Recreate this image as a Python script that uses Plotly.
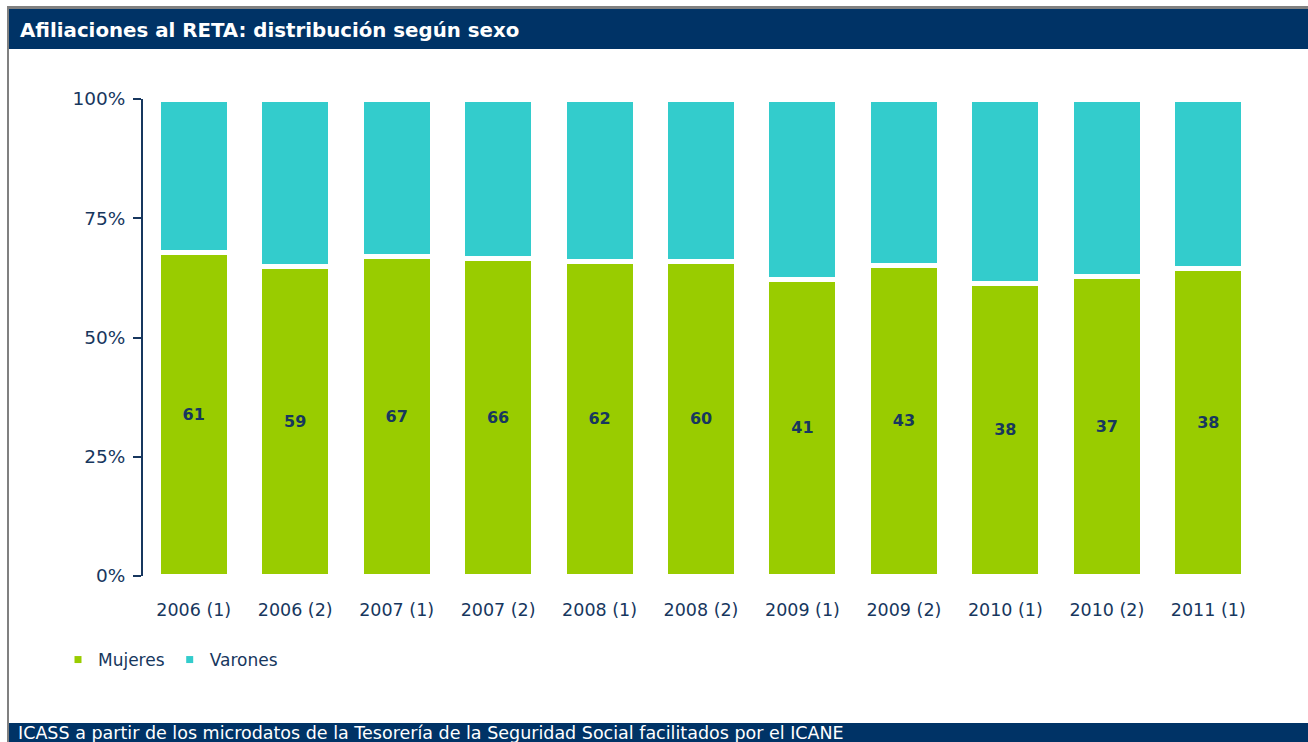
import plotly.graph_objects as go

categories = ["2006 (1)", "2006 (2)", "2007 (1)", "2007 (2)", "2008 (1)", "2008 (2)",
              "2009 (1)", "2009 (2)", "2010 (1)", "2010 (2)", "2011 (1)"]
mujeres = [61, 59, 67, 66, 62, 60, 41, 43, 38, 37, 38]
varones = [29, 32, 33, 33, 32, 31, 25, 23, 24, 22, 21]
y_ticks = [0, 25, 50, 75, 100]
y_tick_labels = ["0%", "25%", "50%", "75%", "100%"]

W, H = 1308, 742
NAVY = "#003366"
TEXT = "#17375e"
GREEN = "#99cc00"
CYAN = "#33cccc"
FONT = "DejaVu Sans"

def px(x):
    return x / W

def py(y):
    return 1 - y / H

fig = go.Figure()
fig.add_trace(go.Bar(
    x=categories, y=mujeres, name="Mujeres", marker=dict(color=GREEN, line=dict(color="white", width=5)),
    text=mujeres, texttemplate="%{text}", textposition="inside", insidetextanchor="middle",
    textangle=0, textfont=dict(family=FONT, size=16, color=TEXT, weight="bold"),
    showlegend=False, hoverinfo="x+y"))
fig.add_trace(go.Bar(
    x=categories, y=varones, name="Varones", marker=dict(color=CYAN, line=dict(color="white", width=5)),
    showlegend=False, hoverinfo="x+y"))
# legend entries with small square symbols
fig.add_trace(go.Scatter(x=[None], y=[None], mode="markers", name="Mujeres",
                         marker=dict(symbol="square", size=7, color=GREEN)))
fig.add_trace(go.Scatter(x=[None], y=[None], mode="markers", name="Varones",
                         marker=dict(symbol="square", size=7, color=CYAN)))

shapes = [
    dict(type="rect", xref="paper", yref="paper", x0=px(7), x1=1, y0=py(9), y1=py(6),
         fillcolor="#808080", line=dict(width=0), layer="below"),
    dict(type="rect", xref="paper", yref="paper", x0=px(7), x1=px(9), y0=0, y1=py(6),
         fillcolor="#808080", line=dict(width=0), layer="below"),
    dict(type="rect", xref="paper", yref="paper", x0=px(9), x1=1, y0=py(49), y1=py(9),
         fillcolor=NAVY, line=dict(width=0), layer="below"),
    dict(type="rect", xref="paper", yref="paper", x0=px(9), x1=1, y0=0, y1=py(723),
         fillcolor=NAVY, line=dict(width=0), layer="below"),
]

annotations = [
    dict(text="<b>Afiliaciones al RETA: distribución según sexo</b>", xref="paper", yref="paper",
         x=px(18), y=py(30), xanchor="left", yanchor="middle", showarrow=False,
         font=dict(family=FONT, size=19.8, color="white")),
    dict(text="ICASS a partir de los microdatos de la Tesorería de la Seguridad Social facilitados por el ICANE",
         xref="paper", yref="paper", x=px(16), y=py(733), xanchor="left", yanchor="middle",
         showarrow=False, font=dict(family=FONT, size=17.5, color="white")),
]

fig.update_layout(
    width=W, height=H,
    margin=dict(l=0, r=0, t=0, b=0, autoexpand=False),
    paper_bgcolor="white", plot_bgcolor="white",
    barmode="stack", barnorm="percent", bargap=0.3,
    font=dict(family=FONT, size=16, color=TEXT),
    xaxis=dict(domain=[px(143), px(1259)], showline=False, ticks="outside", ticklen=18,
               tickcolor="rgba(0,0,0,0)", showgrid=False, automargin=False,
               tickfont=dict(family=FONT, size=17.5, color=TEXT), fixedrange=True),
    yaxis=dict(domain=[py(576), py(99)], range=[0, 100], tickvals=y_ticks, ticktext=y_tick_labels,
               showline=True, linecolor=TEXT, linewidth=2, ticks="outside", ticklen=8,
               tickcolor=TEXT, tickwidth=2, showgrid=False, zeroline=False, automargin=False,
               ticklabelstandoff=4,
               tickfont=dict(family=FONT, size=18.5, color=TEXT), fixedrange=True),
    legend=dict(orientation="h", x=px(58), y=py(660), xanchor="left", yanchor="middle",
                traceorder="normal", font=dict(family=FONT, size=17, color=TEXT),
                bgcolor="rgba(0,0,0,0)"),
    shapes=shapes, annotations=annotations,
)

fig.write_html("out.html", config={"responsive": False, "displayModeBar": False},
               post_script="document.body.style.margin='0';document.body.style.padding='0';document.body.style.overflow='hidden';")
